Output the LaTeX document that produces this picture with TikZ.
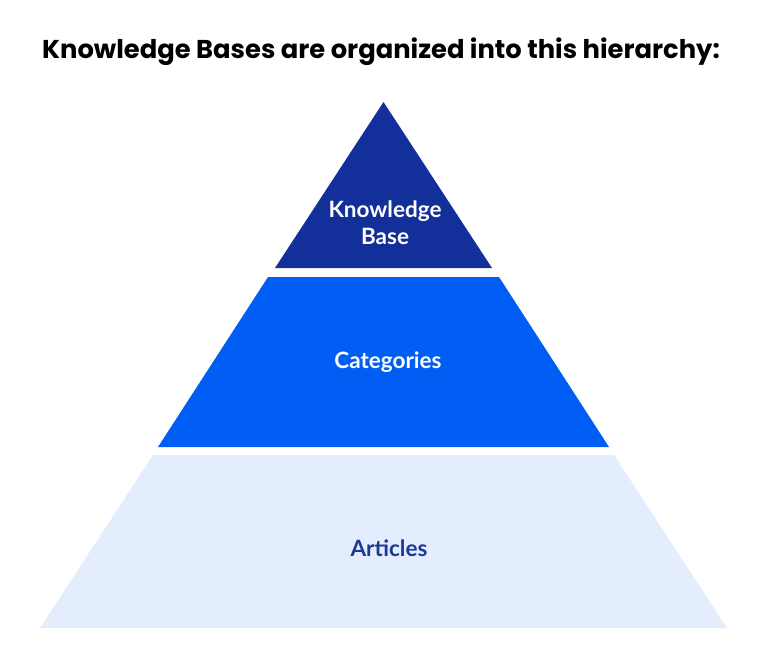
\documentclass[tikz,border=0pt]{standalone}
\usepackage{fontspec}
\setmainfont{Lato}
\newfontfamily\titlefont{Poppins}
\definecolor{kbnavy}{HTML}{13309A}
\definecolor{kbblue}{HTML}{005EF5}
\definecolor{kblight}{HTML}{E3EDFD}
\definecolor{kbtext}{HTML}{1B3A94}
\begin{document}
\begin{tikzpicture}[x=1pt,y=-1pt]
	\useasboundingbox (0,0) rectangle (757,658);
	\tikzset{level/.style={font=\bfseries\fontsize{22.5}{27}\selectfont, align=center}}
	
	% Title
	\node (title) at (381,52) {\titlefont\bfseries\fontsize{25.8}{30}\selectfont Knowledge Bases are organized into this hierarchy:};
	
	% Draw pyramid levels
	% Top: triangle
	\fill[kbnavy] (383.5,102) -- (492,268) -- (275,268) -- cycle;
	% Middle: trapezoid
	\fill[kbblue] (268,277) -- (499,277) -- (609,447) -- (158,447) -- cycle;
	% Bottom: trapezoid
	\fill[kblight] (153,455) -- (614,455) -- (727,628) -- (40,628) -- cycle;
	
	% Labels
	\node[level, text=white] (kb) at (385,223) {Knowledge\\Base};
	\node[level, text=white] (cat) at (388,362) {Categories};
	\node[level, text=kbtext] (art) at (389,548) {Articles};
\end{tikzpicture}
\end{document}
